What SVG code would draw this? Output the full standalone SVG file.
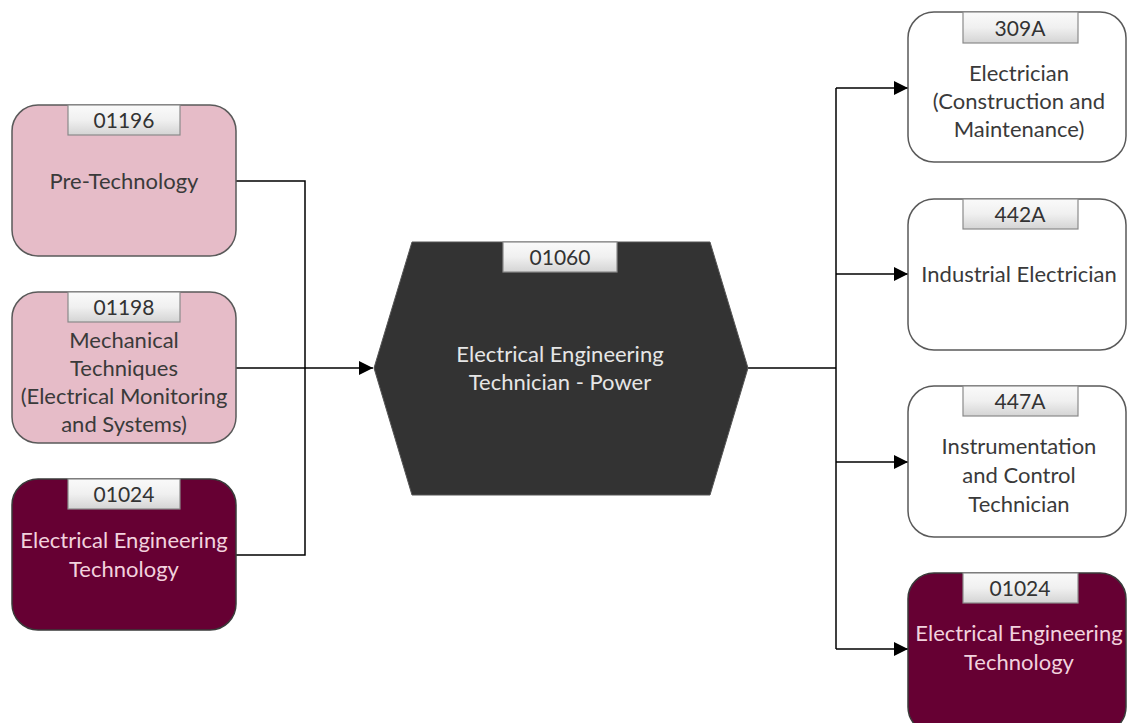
<svg xmlns="http://www.w3.org/2000/svg" width="1127" height="723" viewBox="0 0 1127 723">
<defs>
<linearGradient id="tabg" x1="0" y1="0" x2="0" y2="1">
<stop offset="0" stop-color="#fafafa"/>
<stop offset="0.5" stop-color="#f0f0f0"/>
<stop offset="1" stop-color="#d4d4d4"/>
</linearGradient>
<marker id="arr" viewBox="0 0 10 10" refX="10" refY="5" markerWidth="16" markerHeight="14" markerUnits="userSpaceOnUse" orient="auto">
<path d="M0,0 L10,5 L0,10 Z" fill="#000"/>
</marker>
</defs>
<style>
text{font-family:Lato,"Open Sans","Liberation Sans",sans-serif;font-size:22px;text-anchor:middle}
.pink{fill:#e6bcc8;stroke:#5a5a5a;stroke-width:1.5}
.maroon{fill:#660033;stroke:#3a3a3a;stroke-width:1.5}
.white{fill:#fff;stroke:#5a5a5a;stroke-width:1.5}
.tab{fill:url(#tabg);stroke:#8a8a8a;stroke-width:1.2}
.tt{fill:#333;font-size:21px}
.dk{fill:#3a3a3a}
.lt{fill:#f2d2de}
.conn{fill:none;stroke:#000;stroke-width:1.5}
</style>
<rect width="1127" height="723" fill="#fff"/>
<g id="connectors">
<polyline class="conn" points="236,181 305,181 305,555 236,555"/>
<line class="conn" x1="236" y1="368" x2="373" y2="368" marker-end="url(#arr)"/>
<polyline class="conn" points="748,368 836,368"/>
<line class="conn" x1="836" y1="88" x2="836" y2="649"/>
<line class="conn" x1="836" y1="88" x2="908" y2="88" marker-end="url(#arr)"/>
<line class="conn" x1="836" y1="274" x2="908" y2="274" marker-end="url(#arr)"/>
<line class="conn" x1="836" y1="462" x2="908" y2="462" marker-end="url(#arr)"/>
<line class="conn" x1="836" y1="649" x2="908" y2="649" marker-end="url(#arr)"/>
</g>
<g id="n01196">
<rect class="pink" x="12" y="105" width="224" height="151" rx="26"/>
<rect class="tab" x="68" y="105" width="112" height="30"/>
<text class="tt" x="124" y="128">01196</text>
<text class="dk" x="124" y="189">Pre-Technology</text>
</g>
<g id="n01198">
<rect class="pink" x="12" y="292" width="224" height="151" rx="26"/>
<rect class="tab" x="68" y="292" width="112" height="30"/>
<text class="tt" x="124" y="315">01198</text>
<text class="dk" x="124" y="348">Mechanical</text>
<text class="dk" x="124" y="376">Techniques</text>
<text class="dk" x="124" y="404">(Electrical Monitoring</text>
<text class="dk" x="124" y="432">and Systems)</text>
</g>
<g id="n01024a">
<rect class="maroon" x="12" y="479" width="224" height="151" rx="26"/>
<rect class="tab" x="68" y="479" width="112" height="30"/>
<text class="tt" x="124" y="502">01024</text>
<text class="lt" x="124" y="548">Electrical Engineering</text>
<text class="lt" x="124" y="577">Technology</text>
</g>
<g id="n01060">
<polygon points="374,368 412,242 710,242 748,368 710,495 412,495" fill="#333" stroke="#555" stroke-width="1"/>
<rect class="tab" x="503" y="242" width="114" height="30"/>
<text class="tt" x="560" y="265">01060</text>
<text fill="#e6e6e6" x="560" y="362">Electrical Engineering</text>
<text fill="#e6e6e6" x="560" y="390">Technician - Power</text>
</g>
<g id="n309A">
<rect class="white" x="908" y="12" width="218" height="150" rx="26"/>
<rect class="tab" x="963" y="12" width="115" height="31"/>
<text class="tt" x="1020" y="36">309A</text>
<text class="dk" x="1019" y="81">Electrician</text>
<text class="dk" x="1019" y="109">(Construction and</text>
<text class="dk" x="1019" y="137">Maintenance)</text>
</g>
<g id="n442A">
<rect class="white" x="908" y="199" width="218" height="151" rx="26"/>
<rect class="tab" x="963" y="199" width="115" height="30"/>
<text class="tt" x="1020" y="222">442A</text>
<text class="dk" x="1019" y="282">Industrial Electrician</text>
</g>
<g id="n447A">
<rect class="white" x="908" y="386" width="218" height="151" rx="26"/>
<rect class="tab" x="963" y="386" width="115" height="30"/>
<text class="tt" x="1020" y="409">447A</text>
<text class="dk" x="1019" y="454">Instrumentation</text>
<text class="dk" x="1019" y="483">and Control</text>
<text class="dk" x="1019" y="512">Technician</text>
</g>
<g id="n01024b">
<rect class="maroon" x="908" y="573" width="218" height="160" rx="26"/>
<rect class="tab" x="963" y="573" width="115" height="30"/>
<text class="tt" x="1020" y="596">01024</text>
<text class="lt" x="1019" y="641">Electrical Engineering</text>
<text class="lt" x="1019" y="670">Technology</text>
</g>
</svg>
